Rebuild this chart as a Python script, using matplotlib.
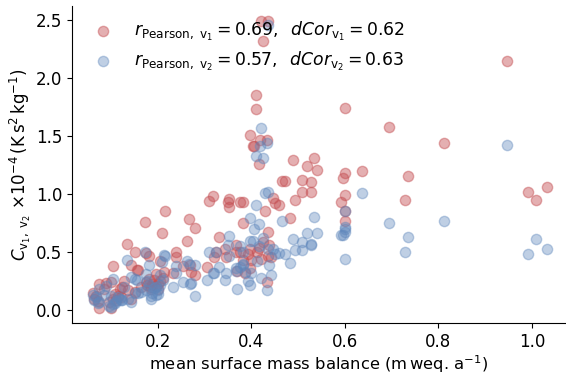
import matplotlib
matplotlib.use("Agg")
import matplotlib.pyplot as plt
import numpy as np

# shared x (mean surface mass balance) and C values for v1 (red) and v2 (blue)
smb = [0.946, 1.032, 1.009, 0.992, 0.811, 0.734, 0.728, 0.695, 0.636, 0.600,
       0.600, 0.596, 0.600, 0.592, 0.600, 0.600, 0.540, 0.533, 0.528, 0.528,
       0.519, 0.508, 0.508, 0.493, 0.488, 0.483, 0.472, 0.465, 0.458, 0.450,
       0.447, 0.436, 0.421, 0.424, 0.434, 0.418, 0.410, 0.410, 0.416, 0.397,
       0.403, 0.406, 0.430, 0.436, 0.436, 0.433, 0.438, 0.425, 0.416, 0.396,
       0.375, 0.367, 0.369, 0.382, 0.400, 0.442, 0.412, 0.420, 0.392, 0.398,
       0.352, 0.350, 0.352, 0.376, 0.381, 0.381, 0.310, 0.317, 0.330, 0.321,
       0.306, 0.325, 0.343, 0.346, 0.368, 0.386, 0.215, 0.172, 0.208, 0.267,
       0.279, 0.262, 0.238, 0.238, 0.182, 0.204, 0.253, 0.268, 0.271, 0.279,
       0.214, 0.195, 0.233, 0.155, 0.143, 0.134, 0.151, 0.175, 0.104, 0.157,
       0.074, 0.088, 0.100, 0.062, 0.118, 0.121, 0.074, 0.100, 0.174, 0.188,
       0.200, 0.128, 0.124, 0.136, 0.109, 0.068, 0.064, 0.072, 0.105, 0.110,
       0.095, 0.143, 0.150, 0.164, 0.186, 0.180, 0.192, 0.196, 0.205, 0.185,
       0.176, 0.210, 0.200, 0.115, 0.085]
c_v1 = [2.15, 1.06, 0.95, 1.02, 1.44, 1.16, 0.95, 1.58, 1.20, 1.74,
        1.18, 1.14, 0.99, 0.93, 0.853, 0.77, 1.21, 1.31, 1.10, 1.02,
        1.24, 1.12, 1.02, 0.945, 1.29, 0.79, 1.11, 1.11, 0.905, 0.92,
        0.965, 2.49, 2.49, 2.32, 1.47, 1.47, 1.85, 1.73, 1.26, 1.51,
        1.41, 1.41, 0.853, 0.67, 0.47, 0.245, 0.56, 0.59, 0.54, 0.53,
        0.50, 0.56, 0.34, 0.43, 0.43, 0.46, 0.50, 0.44, 0.48, 0.36,
        0.96, 0.93, 0.89, 0.928, 0.928, 0.75, 0.937, 0.983, 0.632, 0.46,
        0.37, 0.50, 0.53, 0.46, 0.50, 0.32, 0.853, 0.76, 0.667, 0.784,
        0.704, 0.595, 0.50, 0.46, 0.47, 0.42, 0.38, 0.39, 0.33, 0.30,
        0.33, 0.316, 0.32, 0.35, 0.39, 0.57, 0.50, 0.49, 0.38, 0.345,
        0.23, 0.235, 0.245, 0.144, 0.187, 0.115, 0.015, 0.015, 0.245, 0.23,
        0.23, 0.25, 0.20, 0.17, 0.14, 0.12, 0.10, 0.08, 0.10, 0.09,
        0.07, 0.10, 0.16, 0.20, 0.18, 0.27, 0.26, 0.21, 0.25, 0.20,
        0.22, 0.28, 0.18, 0.12, 0.18]
c_v2 = [1.42, 0.53, 0.61, 0.48, 0.77, 0.63, 0.50, 0.75, 1.01, 0.72,
        0.70, 0.65, 0.67, 0.645, 0.853, 0.437, 0.667, 0.80, 0.57, 0.56,
        0.667, 0.59, 0.52, 0.52, 0.61, 0.41, 0.48, 0.77, 0.49, 0.48,
        0.53, 2.46, 1.57, 1.31, 1.44, 1.41, 1.33, 0.905, 0.74, 0.79,
        0.595, 0.70, 1.01, 1.02, 0.53, 0.172, 0.39, 0.62, 0.55, 0.60,
        0.37, 0.34, 0.187, 0.40, 0.32, 0.30, 0.42, 0.28, 0.25, 0.22,
        0.64, 0.56, 0.47, 0.55, 0.39, 0.50, 0.50, 0.32, 0.37, 0.32,
        0.26, 0.50, 0.26, 0.32, 0.36, 0.33, 0.465, 0.50, 0.417, 0.40,
        0.39, 0.42, 0.38, 0.32, 0.39, 0.30, 0.245, 0.23, 0.235, 0.12,
        0.474, 0.20, 0.20, 0.26, 0.29, 0.43, 0.27, 0.315, 0.265, 0.144,
        0.18, 0.21, 0.12, 0.13, 0.10, 0.086, 0.07, 0.03, 0.17, 0.15,
        0.17, 0.20, 0.09, 0.10, 0.06, 0.115, 0.09, 0.06, 0.05, 0.08,
        0.04, 0.07, 0.144, 0.158, 0.10, 0.22, 0.19, 0.13, 0.22, 0.12,
        0.25, 0.26, 0.14, 0.11, 0.13]

label_v1 = r"$r_{\mathrm{Pearson,\ v_1}} = 0.69,\;\; dCor_{\mathrm{v_1}} = 0.62$"
label_v2 = r"$r_{\mathrm{Pearson,\ v_2}} = 0.57,\;\; dCor_{\mathrm{v_2}} = 0.63$"

plt.rcParams['font.family'] = ['DejaVu Sans']
plt.rcParams['font.size'] = 12

fig = plt.figure(figsize=(5.66, 3.75), dpi=100)
ax = fig.add_axes([0.127, 0.139, 0.873, 0.845])

ax.scatter(smb, c_v1, s=55, color='#c44e52', alpha=0.45, label=label_v1)
ax.scatter(smb, c_v2, s=55, color='#5f87bc', alpha=0.4, label=label_v2)

ax.set_xlim(0.016, 1.073)
ax.set_ylim(-0.109, 2.62)
ax.set_xticks([0.2, 0.4, 0.6, 0.8, 1.0])
ax.set_yticks([0.0, 0.5, 1.0, 1.5, 2.0, 2.5])
ax.tick_params(labelsize=12)
ax.spines['top'].set_visible(False)
ax.spines['right'].set_visible(False)

ax.set_xlabel(r"mean surface mass balance (m$\,$weq. a$^{-1}$)", fontsize=11.8,
              labelpad=2)
ax.set_ylabel(r"$C_{\mathrm{v_1,\ v_2}}\ {\times}10^{-4}\,(\mathrm{K\,s^2\,kg^{-1}})$",
              fontsize=12, labelpad=2)

ax.legend(loc='upper left', frameon=False, fontsize=12.4, handletextpad=0.8,
          labelspacing=0.4, borderaxespad=0.4)

fig.savefig("out.png", dpi=100)
